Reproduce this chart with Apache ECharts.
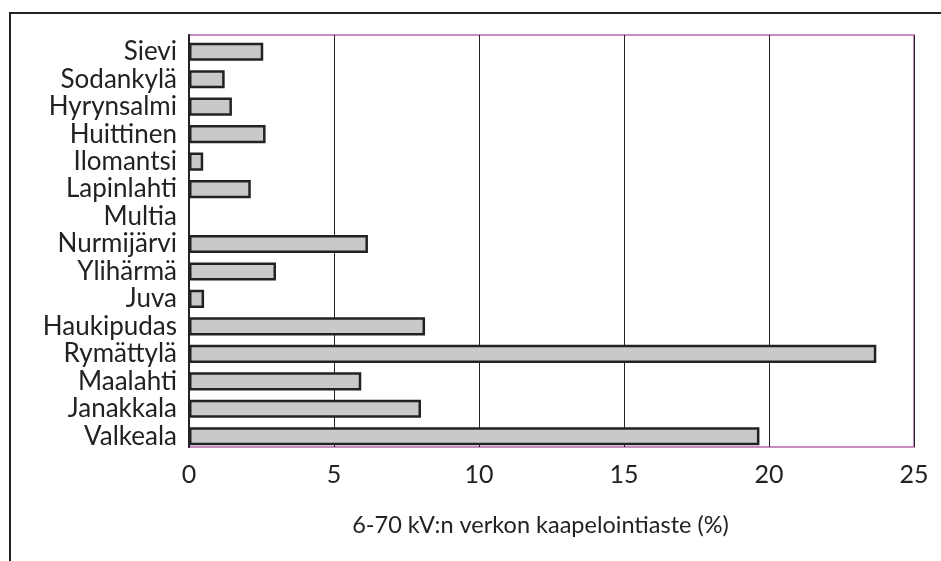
<!DOCTYPE html>
<html>
<head>
<meta charset="utf-8">
<script src="https://cdn.jsdelivr.net/npm/echarts@6/dist/echarts.min.js"></script>
<style>html,body{margin:0;padding:0;background:#fff}#c{width:941px;height:561px}</style>
</head>
<body>
<div id="c"></div>
<script>
const categories = ["Sievi","Sodankylä","Hyrynsalmi","Huittinen","Ilomantsi","Lapinlahti","Multia","Nurmijärvi","Ylihärmä","Juva","Haukipudas","Rymättylä","Maalahti","Janakkala","Valkeala"];
const values = [2.56,1.23,1.48,2.64,0.49,2.13,0,6.17,3.0,0.52,8.14,23.7,5.94,8.0,19.67];
const xTicks = [0,5,10,15,20,25];
const axisTitle = "6-70 kV:n verkon kaapelointiaste (%)";

const chart = echarts.init(document.getElementById('c'), null, {renderer:'canvas'});
const font = 'Lato';
const barData = values.map(v => v === 0 ? {value:v, itemStyle:{borderWidth:0}} : v);
chart.setOption({
  animation:false,
  backgroundColor:'#fff',
  graphic:[{
    type:'rect', shape:{x:10,y:13,width:1000,height:600},
    style:{fill:'none',stroke:'#222',lineWidth:2}, z:-1
  }],
  grid:[
    {left:189,right:27,top:35,bottom:114,show:true,borderColor:'#b865b0',borderWidth:1.5,backgroundColor:'transparent'},
    {left:189,right:27,top:38,bottom:111,show:false}
  ],
  xAxis:[{
    gridIndex:0, type:'value', min:xTicks[0], max:xTicks[xTicks.length-1], interval:5,
    axisLine:{show:false}, axisTick:{show:false},
    splitLine:{show:true,lineStyle:{color:'#222',width:1}},
    axisLabel:{color:'#222',fontFamily:font,fontSize:25,margin:15},
    name:axisTitle, nameLocation:'middle', nameGap:66,
    nameTextStyle:{color:'#222',fontFamily:font,fontSize:23.5,padding:[0,22,0,0]}
  },{
    gridIndex:1, type:'value', min:xTicks[0], max:xTicks[xTicks.length-1], interval:5,
    show:false
  }],
  yAxis:[{
    gridIndex:0, type:'category', data:categories, inverse:true,
    axisLine:{show:true,lineStyle:{color:'#222',width:2}},
    axisTick:{show:false}, axisLabel:{show:false}
  },{
    gridIndex:1, type:'category', data:categories, inverse:true,
    axisLine:{show:false}, axisTick:{show:false},
    axisLabel:{color:'#222',fontFamily:font,fontSize:26,margin:12,interval:0}
  }],
  series:[{
    type:'bar', xAxisIndex:1, yAxisIndex:1, data:barData, barCategoryGap:'34%',
    itemStyle:{color:'#c8c9cb',borderColor:'#222',borderWidth:2.5}
  }]
});
</script>
</body>
</html>
